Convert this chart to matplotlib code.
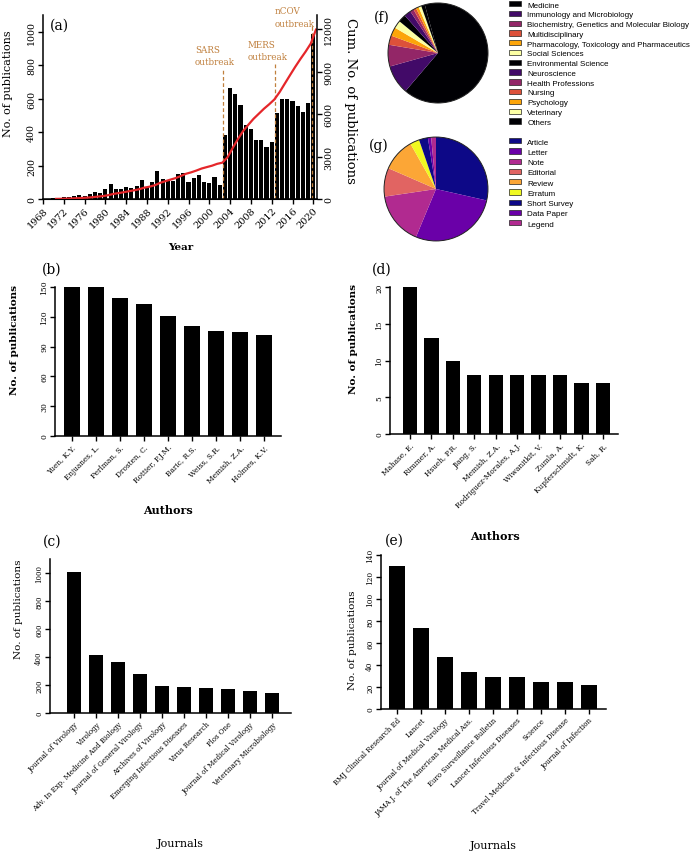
import matplotlib
matplotlib.use('Agg')
import matplotlib.pyplot as plt
from matplotlib.patches import Patch, Circle
import numpy as np

plt.rcParams['font.family'] = 'DejaVu Serif'

# ---- data ----
years = list(range(1970, 2021))
pubs_per_year = [8, 6, 12, 12, 16, 22, 20, 30, 42, 36,
                 62, 90, 60, 60, 72, 66, 76, 112, 70, 100,
                 165, 120, 110, 110, 147, 158, 102, 126, 142, 102,
                 98, 132, 82, 383, 665, 630, 564, 440, 420, 355,
                 355, 313, 343, 514, 600, 596, 588, 554, 522, 572, 985]

outbreak_names = ['SARS\noutbreak', 'MERS\noutbreak', 'nCOV\noutbreak']
outbreak_year = [2002.6, 2012.6, 2019.7]
outbreak_top = [785, 811, 1036]
outbreak_text_x = [1997.2, 2007.4, 2012.6]
outbreak_text_y = [922, 952, 1151]

top_authors = ['Yuen, K.Y.', 'Enjuanes, L.', 'Perlman, S.', 'Drosten, C.',
               'Rottier, P.J.M.', 'Baric, R.S.', 'Weiss, S.R.', 'Memish, Z.A.',
               'Holmes, K.V.']
top_authors_pubs = [150, 150, 139, 133, 121, 111, 106, 105, 102]

top_journals = ['Journal of Virology', 'Virology', 'Adv. In Exp. Medicine And Biology',
                'Journal of General Virology', 'Archives of Virology',
                'Emerging Infectious Diseases', 'Virus Research', 'Plos One',
                'Journal of Medical Virology', 'Veterinary Microbiology']
top_journals_pubs = [1005, 412, 362, 277, 192, 188, 180, 173, 160, 142]

recent_authors = ['Mahase, E.', 'Rimmer, A.', 'Hsueh, P.R.', 'Jiang, S.', 'Memish, Z.A.',
                  'Rodriguez-Morales, A.J.', 'Wiwanitkit, V.', 'Zumla, A.',
                  'Kupferschmidt, K.', 'Sah, R.']
recent_authors_pubs = [20, 13, 10, 8, 8, 8, 8, 8, 7, 7]

recent_journals = ['BMJ Clinical Research Ed', 'Lancet', 'Journal of Medical Virology',
                   'JAMA J. of The American Medical Ass.', 'Euro Surveillance Bulletin',
                   'Lancet Infectious Diseases', 'Science',
                   'Travel Medicine & Infectious Disease', 'Journal of Infection']
recent_journals_pubs = [130, 74, 47, 34, 29, 29, 25, 25, 22]

subject_areas = ['Medicine', 'Immunology and Microbiology',
                 'Biochemistry, Genetics and Molecular Biology', 'Multidisciplinary',
                 'Pharmacology, Toxicology and Pharmaceutics', 'Social Sciences',
                 'Environmental Science', 'Neuroscience', 'Health Professions',
                 'Nursing', 'Psychology', 'Veterinary', 'Others']
subject_share = [65.5, 9.4, 7.0, 3.0, 2.8, 2.5, 2.5, 2.2, 1.2, 0.9, 0.9, 0.9, 1.2]

doc_types = ['Article', 'Letter', 'Note', 'Editorial', 'Review', 'Erratum',
             'Short Survey', 'Data Paper', 'Legend']
doc_share = [28.6, 27.8, 16.4, 8.9, 10.3, 2.9, 2.8, 1.0, 1.5]

W, H = 699, 854
fig = plt.figure(figsize=(W / 100, H / 100), dpi=100)


def rect(left, top, right, bottom):
    return [left / W, 1 - bottom / H, (right - left) / W, (bottom - top) / H]


def style_axes(ax):
    for s in ['top', 'right']:
        ax.spines[s].set_visible(False)
    for s in ['left', 'bottom']:
        ax.spines[s].set_linewidth(1.1)
    ax.tick_params(direction='out', length=3.5, width=1.0, pad=1.5)


def panel_label(x, y, s):
    fig.text(x / W, 1 - y / H, s, fontsize=10, ha='center', va='center')


# ---- (a) ----
ax = fig.add_axes(rect(43, 16, 317, 200))
style_axes(ax)
ax.bar(years, pubs_per_year, width=0.8, color='black')
ax.set_xlim(1968, 2020.7)
ax.set_ylim(0, 1100)
ax.set_yticks(range(0, 1001, 200))
ax.set_xticks(range(1968, 2021, 4))
ax.tick_params(axis='x', labelsize=7, labelrotation=45)
for lbl in ax.get_xticklabels():
    lbl.set_ha('right')
    lbl.set_rotation_mode('anchor')
ax.tick_params(axis='y', labelsize=6.8)
for lbl in ax.get_yticklabels():
    lbl.set_rotation(90)
    lbl.set_va('center')
ax.set_ylabel('No. of publications', fontsize=8)
ax.yaxis.set_label_coords(-0.11, 0.63)
ax.set_xlabel('Year', fontsize=7.5, fontweight='bold')
ax.xaxis.set_label_coords(0.504, -0.234)

for name, xv, top, tx, ty in zip(outbreak_names, outbreak_year, outbreak_top,
                                  outbreak_text_x, outbreak_text_y):
    ax.plot([xv, xv], [0, top], ls=(0, (3, 2)), color='#c0803e', lw=0.9)
    ax.text(tx, ty, name, fontsize=6.3, color='#c0803e', va='top', ha='left',
            linespacing=1.45, clip_on=False)

ax2 = ax.twinx()
ax2.spines['top'].set_visible(False)
ax2.spines['left'].set_visible(False)
ax2.spines['right'].set_linewidth(1.1)
ax2.plot(np.array(years) + 0.5, np.cumsum(pubs_per_year), color='#e5262a', lw=1.6)
ax2.set_ylim(0, 13000)
ax2.set_yticks(range(0, 12001, 3000))
ax2.tick_params(direction='out', length=3.5, width=1.0, pad=1.5, labelsize=6.8)
for lbl in ax2.get_yticklabels():
    lbl.set_rotation(90)
    lbl.set_va('center')
ax2.set_ylabel('Cum. No. of publications', fontsize=9.5, rotation=270)
ax2.yaxis.set_label_coords(1.146, 0.54)
panel_label(59, 26, '(a)')


def bar_panel(r, names, vals, ylim, yticks, xlim, tick_fs, name_fs,
              ylab_xy, xlab, xlab_xy, bold):
    a = fig.add_axes(r)
    style_axes(a)
    x = np.arange(len(names))
    a.bar(x, vals, width=0.67, color='black')
    a.set_xlim(*xlim)
    a.set_ylim(0, ylim)
    a.set_yticks(yticks)
    a.set_xticks(x)
    a.set_xticklabels(names, rotation=45, ha='right', rotation_mode='anchor',
                      fontsize=name_fs)
    a.tick_params(axis='y', labelsize=tick_fs)
    for lbl in a.get_yticklabels():
        lbl.set_rotation(90)
        lbl.set_va('center')
    w = 'bold' if bold else 'normal'
    a.set_ylabel('No. of publications', fontsize=7.5, fontweight=w)
    a.yaxis.set_label_coords(*ylab_xy)
    a.set_xlabel(xlab, fontsize=8, fontweight=w)
    a.xaxis.set_label_coords(*xlab_xy)
    return a


# ---- (b) ----
bar_panel(rect(55, 288, 281, 437), top_authors, top_authors_pubs, 150,
          range(0, 151, 30), (-0.7, 8.7), 5.5, 5.3,
          (-36 / 226, 0.65), 'Authors', ((168 - 55) / 226, -68 / 149), True)
panel_label(52, 270, '(b)')

# ---- (d) ----
bar_panel(rect(390, 288, 618, 435), recent_authors, recent_authors_pubs, 20,
          range(0, 21, 5), (-0.93, 9.7), 5.3, 5.3,
          (-32 / 228, 0.65), 'Authors', ((495 - 390) / 228, -96 / 147), True)
panel_label(382, 270, '(d)')

# ---- (c) ----
bar_panel(rect(50, 560, 291, 714), top_journals, top_journals_pubs, 1100,
          range(0, 1001, 200), (-1.09, 9.86), 5.0, 5.0,
          (-27 / 241, 0.68), 'Journals', ((180 - 50) / 241, -125 / 154), False)
panel_label(52, 542, '(c)')

# ---- (e) ----
bar_panel(rect(381, 556, 606, 710), recent_journals, recent_journals_pubs, 140,
          range(0, 141, 20), (-0.67, 8.7), 5.3, 5.0,
          (-24 / 225, 0.45), 'Journals', ((493 - 381) / 225, -131 / 154), False)
panel_label(394, 541, '(e)')


# ---- pies ----
def pie_panel(r, vals, labels, cmap, start, leg_x, leg_top, leg_step):
    a = fig.add_axes(r)
    cols = [cmap(k / 5) for k in range(6)]
    colors = [cols[i % 6] for i in range(len(vals))]
    a.pie(vals, colors=colors, startangle=start, counterclock=False,
          wedgeprops=dict(linewidth=0))
    a.add_patch(Circle((0, 0), 1, fill=False, lw=0.7, ec='#222222'))
    a.set_xlim(-1.02, 1.02)
    a.set_ylim(-1.02, 1.02)
    a.set_aspect('equal')
    handles = [Patch(facecolor=c, edgecolor='#222222', lw=0.5) for c in colors]
    fig.legend(handles, labels, loc='upper left',
               bbox_to_anchor=(leg_x / W, 1 - leg_top / H),
               frameon=False, prop={'family': 'Liberation Sans', 'size': 5.8},
               handlelength=1.5, handleheight=0.65, handletextpad=0.75,
               labelspacing=leg_step, borderpad=0, borderaxespad=0)


pie_panel(rect(387, 3, 489, 105), subject_share, subject_areas, plt.cm.inferno,
          105.3, 509, 2, 0.28)
panel_label(382, 18, '(f)')
pie_panel(rect(383, 137, 489, 243), doc_share, doc_types, plt.cm.plasma,
          90, 509, 139, 0.34)
panel_label(379, 146, '(g)')

fig.savefig('out.png', dpi=100)
